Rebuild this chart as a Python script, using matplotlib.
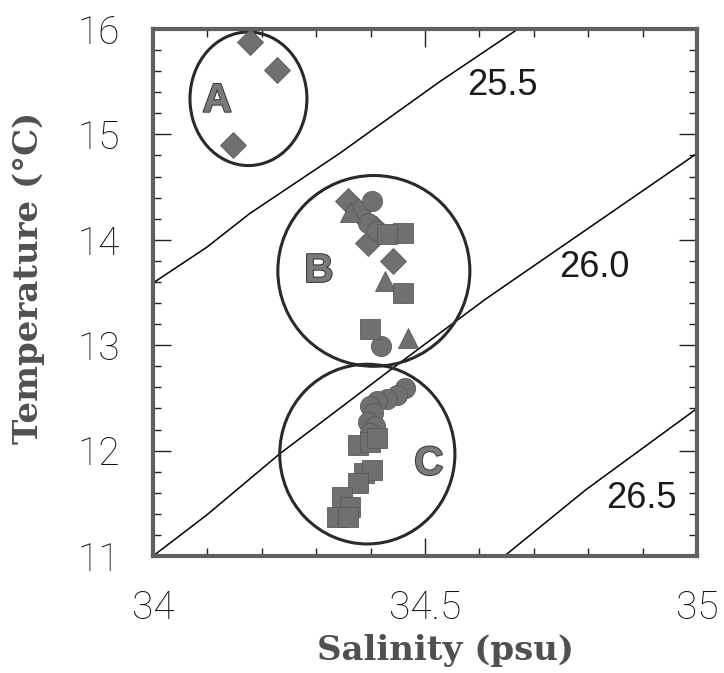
import matplotlib
matplotlib.use("Agg")
import matplotlib.pyplot as plt
from matplotlib.patches import Ellipse
from matplotlib.ticker import MultipleLocator
import matplotlib.patheffects as pe

# isopycnals (sigma-theta) as (S, T) points
sig255_s = [34.0, 34.099, 34.178, 34.343, 34.527, 34.671]
sig255_t = [13.59, 13.93, 14.25, 14.82, 15.50, 16.0]
sig260_s = [34.0, 34.099, 34.233, 34.343, 34.44, 34.612, 35.0]
sig260_t = [11.0, 11.39, 11.97, 12.40, 12.78, 13.44, 14.82]
sig265_s = [34.646, 34.796, 35.0]
sig265_t = [11.0, 11.63, 12.40]
sig_labels = ["25.5", "26.0", "26.5"]
sig_label_s = [34.643, 34.811, 34.898]
sig_label_t = [15.46, 13.74, 11.55]

# water mass samples
diamond_s = [34.178, 34.228, 34.147, 34.359, 34.377, 34.410, 34.396, 34.442]
diamond_t = [15.876, 15.61, 14.895, 14.371, 14.276, 14.105, 13.974, 13.80]
circle_s = [34.402, 34.395, 34.411, 34.419,
            34.463, 34.448, 34.430, 34.411, 34.399, 34.405, 34.396, 34.408, 34.399]
circle_t = [14.371, 14.162, 14.086, 12.99,
            12.593, 12.530, 12.492, 12.467, 12.419, 12.355, 12.276, 12.229, 12.165]
triangle_s = [34.362, 34.426, 34.469]
triangle_t = [14.26, 13.61, 13.07]
square_s = [34.460, 34.430, 34.460, 34.399,
            34.377, 34.399, 34.411, 34.387, 34.402, 34.377, 34.347, 34.362, 34.338, 34.359]
square_t = [14.069, 14.054, 13.498, 13.150,
            12.054, 12.086, 12.117, 11.784, 11.816, 11.689, 11.562, 11.467, 11.371, 11.371]

# groups: name, centre (S, T), width (psu), height (degC), label position
groups = ["A", "B", "C"]
group_cs = [34.1755, 34.406, 34.394]
group_ct = [15.338, 13.705, 11.967]
group_w = [0.215, 0.353, 0.322]
group_h = [1.267, 1.81, 1.705]
group_ls = [34.118, 34.305, 34.507]
group_lt = [15.32, 13.705, 11.876]

fig = plt.figure(figsize=(7.24, 6.73), dpi=100)
ax = fig.add_axes([0.2113, 0.1738, 0.7514, 0.7831])

for s, t in [(sig255_s, sig255_t), (sig260_s, sig260_t), (sig265_s, sig265_t)]:
    ax.plot(s, t, color="black", lw=1.1, zorder=2)
for lab, s, t in zip(sig_labels, sig_label_s, sig_label_t):
    ax.text(s, t, lab, fontsize=26, family="Liberation Sans", color="#1a1a1a",
            ha="center", va="center")

for name, cs, ct, w, h, ls, lt in zip(groups, group_cs, group_ct, group_w, group_h,
                                      group_ls, group_lt):
    ax.add_patch(Ellipse((cs, ct), w, h, fill=False, ec="#2a2a2a", lw=2.2, zorder=2))
    ax.text(ls, lt, name, fontsize=29, fontweight="bold", family="Liberation Sans",
            color="#7a7a7a", ha="center", va="center",
            path_effects=[pe.withStroke(linewidth=1.5, foreground="#3a3a3a")])

mk = dict(ls="none", color="#707070", mec="#5a5a5a", mew=0.6, zorder=3)
ax.plot(diamond_s, diamond_t, marker="D", ms=13.5, **mk)
ax.plot(circle_s, circle_t, marker="o", ms=14.5, **mk)
ax.plot(triangle_s, triangle_t, marker="^", ms=14.5, **mk)
ax.plot(square_s, square_t, marker="s", ms=14.5, **mk)

ax.set_xlim(34, 35)
ax.set_ylim(11, 16)
ax.set_xticks([34, 34.5, 35])
ax.set_xticklabels(["34", "34.5", "35"])
ax.set_yticks([11, 12, 13, 14, 15, 16])
ax.xaxis.set_minor_locator(MultipleLocator(0.1))
ax.yaxis.set_minor_locator(MultipleLocator(0.2))
ax.tick_params(which="both", direction="in", top=True, right=True,
               color="#222222", width=1.0)
ax.tick_params(which="major", length=13, pad=24)
ax.tick_params(which="minor", length=6)
for lab in ax.get_xticklabels() + ax.get_yticklabels():
    lab.set_family("Roboto")
    lab.set_fontweight("light")
    lab.set_fontsize(28)
    lab.set_color("#111111")

for sp in ax.spines.values():
    sp.set_linewidth(3)
    sp.set_color("#606060")

ax.set_xlabel("Salinity (psu)", family="DejaVu Serif", fontweight="bold",
              fontsize=24.5, color="#505050")
ax.set_ylabel("Temperature (°C)", family="DejaVu Serif", fontweight="bold",
              fontsize=24.5, color="#505050")
ax.xaxis.set_label_coords(0.537, -0.148)
ax.yaxis.set_label_coords(-0.198, 0.527)

fig.savefig("out.png", dpi=100)
